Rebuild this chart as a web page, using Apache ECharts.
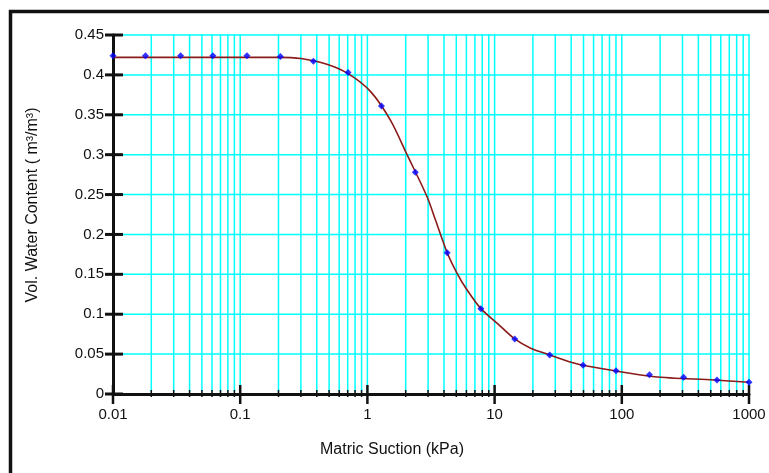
<!DOCTYPE html>
<html>
<head>
<meta charset="utf-8">
<script src="https://cdn.jsdelivr.net/npm/echarts@6/dist/echarts.min.js"></script>
<style>
  html, body { margin: 0; padding: 0; background: #ffffff; }
  #chart { width: 769px; height: 473px; }
</style>
</head>
<body>
<div id="chart"></div>
<script>
// Measured soil-water characteristic points (suction in kPa, volumetric water content)
const suction = [0.01, 0.018, 0.034, 0.061, 0.113, 0.207, 0.376, 0.705, 1.29, 2.38,
                 4.24, 7.8, 14.4, 27.1, 49.6, 90, 165, 306, 560, 1000];
const waterContent = [0.424, 0.424, 0.424, 0.424, 0.424, 0.423, 0.417, 0.403, 0.361, 0.278,
                      0.177, 0.107, 0.069, 0.049, 0.036, 0.029, 0.024, 0.021, 0.0175, 0.0147];

// Fitted characteristic curve
const fitSuction = [0.01, 0.1, 0.2, 0.3, 0.48, 0.705, 1.06, 1.52, 2.05, 2.95, 3.43, 4.24,
                    5.08, 6.1, 7.8, 10.5, 14.4, 19.2, 27.1, 44.8, 87, 180, 533, 1000];
const fitWaterContent = [0.422, 0.422, 0.422, 0.4205, 0.4133, 0.4015, 0.379, 0.343, 0.300, 0.247, 0.218, 0.177,
                         0.151, 0.130, 0.107, 0.0886, 0.069, 0.0574, 0.049, 0.0376, 0.0292, 0.0217, 0.0175, 0.0147];

// Axis ticks
const yTicks = [0, 0.05, 0.1, 0.15, 0.2, 0.25, 0.3, 0.35, 0.4, 0.45];
const xDecades = [0.01, 0.1, 1, 10, 100, 1000];
const xTickLabels = ['0.01', '0.1', '1', '10', '100', '1000'];
const minorMultipliers = [2, 3, 4, 5, 6, 7, 8, 9];

const X_MIN = xDecades[0];
const X_MAX = xDecades[xDecades.length - 1];
const Y_MIN = yTicks[0];
const Y_MAX = yTicks[yTicks.length - 1];

// minor log positions between decades
const xMinor = [];
for (let i = 0; i < xDecades.length - 1; i++) {
  minorMultipliers.forEach(m => xMinor.push(+(xDecades[i] * m).toPrecision(6)));
}

const vGridData = xMinor.concat(xDecades.slice(1)).map(v => [v, 0]);
const hGridData = yTicks.slice(1).map(v => [X_MIN, v]);
const tickData = []
  .concat(xMinor.map(v => [v, 0, 0]))
  .concat(xDecades.map(v => [v, 0, 1]))
  .concat(yTicks.map(v => [X_MIN, v, 2]));

const GRID_CYAN = '#00ffff';
const INK = '#111111';
const FONT = '"Liberation Sans", Arial, sans-serif';

const chart = echarts.init(document.getElementById('chart'), null, { renderer: 'canvas' });

const option = {
  animation: false,
  backgroundColor: '#ffffff',
  grid: { left: 113, right: 20, top: 35, bottom: 79, containLabel: false },
  xAxis: {
    type: 'log',
    logBase: 10,
    min: X_MIN,
    max: X_MAX,
    z: 3,
    axisLine: { show: true, lineStyle: { color: INK, width: 3 } },
    axisTick: { show: false },
    minorTick: { show: false },
    splitLine: { show: false },
    axisLabel: {
      margin: 13,
      color: INK,
      fontFamily: FONT,
      fontSize: 15,
      formatter: function (value) {
        const idx = xDecades.findIndex(d => Math.abs(Math.log10(d) - Math.log10(value)) < 1e-6);
        return idx >= 0 ? xTickLabels[idx] : '';
      }
    }
  },
  yAxis: {
    type: 'value',
    min: Y_MIN,
    max: Y_MAX,
    interval: 0.05,
    z: 3,
    axisLine: { show: true, lineStyle: { color: INK, width: 3 } },
    axisTick: { show: false },
    splitLine: { show: false },
    axisLabel: {
      margin: 9,
      color: INK,
      fontFamily: FONT,
      fontSize: 15,
      formatter: function (value) { return String(+value.toFixed(2)); }
    }
  },
  series: [
    {
      // vertical grid lines at each log position
      type: 'custom',
      z: 1,
      silent: true,
      data: vGridData,
      renderItem: function (params, api) {
        const x = api.value(0);
        const p0 = api.coord([x, Y_MIN]);
        const p1 = api.coord([x, Y_MAX]);
        return {
          type: 'line',
          shape: { x1: p0[0], y1: p0[1] - 1.5, x2: p1[0], y2: p1[1] - 0.75 },
          style: { stroke: GRID_CYAN, lineWidth: 1.5 }
        };
      }
    },
    {
      // horizontal grid lines
      type: 'custom',
      z: 1,
      silent: true,
      data: hGridData,
      renderItem: function (params, api) {
        const y = api.value(1);
        const p0 = api.coord([X_MIN, y]);
        const p1 = api.coord([X_MAX, y]);
        return {
          type: 'line',
          shape: { x1: p0[0] + 1.5, y1: p0[1], x2: p1[0] + 0.75, y2: p1[1] },
          style: { stroke: GRID_CYAN, lineWidth: 1.5 }
        };
      }
    },
    {
      // axis ticks crossing the axis lines
      type: 'custom',
      z: 4,
      silent: true,
      data: tickData,
      renderItem: function (params, api) {
        const kind = api.value(2);
        const p = api.coord([api.value(0), api.value(1)]);
        let shape, w;
        if (kind === 2) {
          shape = { x1: p[0] - 8, y1: p[1], x2: p[0] + 10, y2: p[1] };
          w = 3;
        } else if (kind === 1) {
          shape = { x1: p[0], y1: p[1] - 9, x2: p[0], y2: p[1] + 10 };
          w = 2.5;
        } else {
          shape = { x1: p[0], y1: p[1] - 4, x2: p[0], y2: p[1] + 3 };
          w = 1.5;
        }
        return { type: 'line', shape: shape, style: { stroke: INK, lineWidth: w } };
      }
    },
    {
      name: 'Fit',
      type: 'line',
      z: 5,
      smooth: 0.3,
      symbol: 'none',
      data: fitSuction.map((x, i) => [x, fitWaterContent[i]]),
      lineStyle: { color: '#8b1a1a', width: 1.6 }
    },
    {
      name: 'Data',
      type: 'scatter',
      z: 6,
      symbol: 'diamond',
      symbolSize: 7,
      data: suction.map((x, i) => [x, waterContent[i]]),
      itemStyle: { color: '#0000ff' }
    }
  ],
  graphic: [
    {
      // outer frame (top and left edges visible)
      type: 'rect',
      z: 10,
      silent: true,
      shape: { x: 10.5, y: 11.5, width: 900, height: 900 },
      style: { fill: null, stroke: INK, lineWidth: 3.5 }
    },
    {
      type: 'text',
      z: 10,
      x: 33,
      y: 205,
      rotation: Math.PI / 2,
      style: {
        text: 'Vol. Water Content ( m³/m³)',
        fill: INK,
        font: '16px ' + FONT,
        align: 'center',
        verticalAlign: 'middle'
      }
    },
    {
      type: 'text',
      z: 10,
      x: 392,
      y: 450,
      style: {
        text: 'Matric Suction (kPa)',
        fill: INK,
        font: '16px ' + FONT,
        align: 'center',
        verticalAlign: 'middle'
      }
    }
  ]
};

chart.setOption(option);
</script>
</body>
</html>
